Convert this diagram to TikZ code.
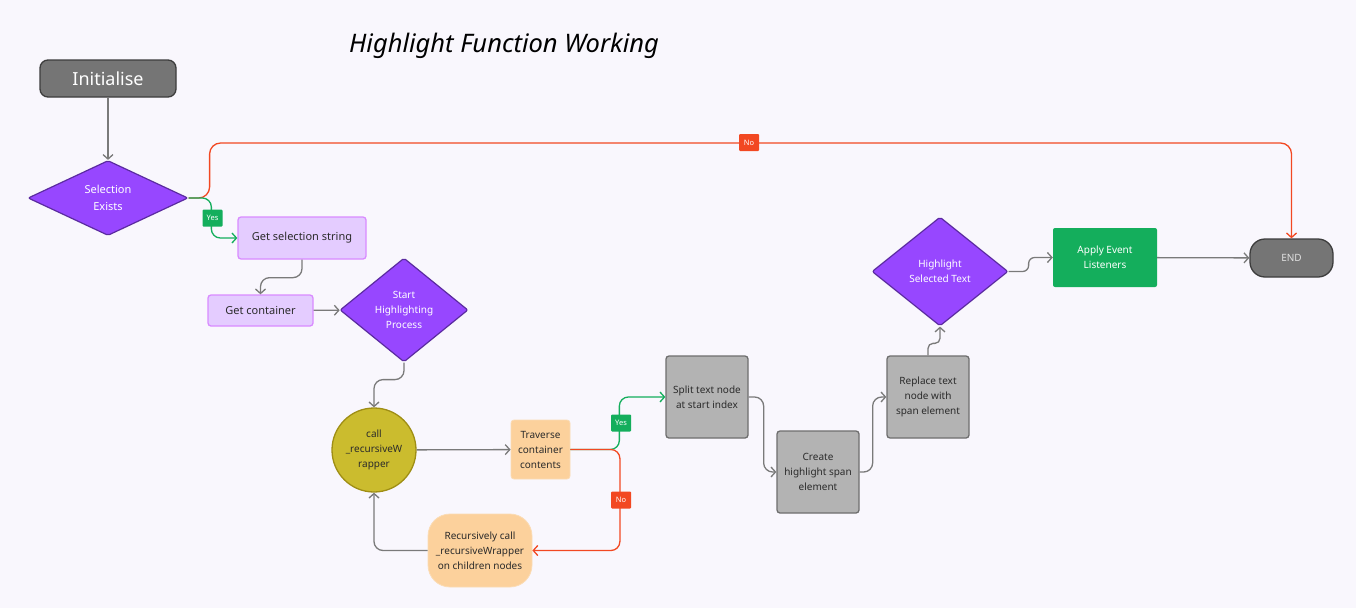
\documentclass[tikz,border=0pt]{standalone}
\usepackage{fontspec}
\setmainfont{Noto Sans}
\usetikzlibrary{shapes.geometric,arrows.meta}
\definecolor{bgc}{HTML}{F9F7FD}
\definecolor{dgray}{HTML}{757575}
\definecolor{dgrayb}{HTML}{3D3D3D}
\definecolor{purp}{HTML}{9747FF}
\definecolor{purpb}{HTML}{5B2BA0}
\definecolor{lpurp}{HTML}{E4CCFF}
\definecolor{lpurpb}{HTML}{D98BFF}
\definecolor{olive}{HTML}{CBBC2E}
\definecolor{oliveb}{HTML}{9F8E14}
\definecolor{peach}{HTML}{FCD19C}
\definecolor{peachb}{HTML}{FBDCB5}
\definecolor{mgray}{HTML}{B3B3B3}
\definecolor{mgrayb}{HTML}{6E6E6E}
\definecolor{fgreen}{HTML}{14AE5C}
\definecolor{fred}{HTML}{F24822}
\definecolor{conn}{HTML}{7A7A7A}
\definecolor{txt}{HTML}{2B2B2B}
\tikzset{
  every node/.style={align=center,inner sep=0pt},
  sm/.style={font=\fontsize{10}{15}\selectfont},
  terminal/.style={draw=dgrayb,fill=dgray,line width=1.3pt,text=white},
  dec/.style={diamond,draw=purpb,fill=purp,line width=1.2pt,text=white,sm,rounded corners=2pt},
  lbox/.style={draw=lpurpb,fill=lpurp,line width=1.3pt,rounded corners=3pt,text=txt,font=\fontsize{11}{14}\selectfont},
  gbox/.style={draw=mgrayb,fill=mgray,line width=1.3pt,rounded corners=3pt,text=txt,sm,minimum width=82pt,minimum height=82pt},
  pbox/.style={fill=peach,draw=peachb,line width=0.8pt,text=txt,sm},
  conline/.style={draw=conn,line width=1.3pt,-{Straight Barb[length=4.5pt,width=10pt]},rounded corners=9pt},
  yesline/.style={conline,draw=fgreen},
  noline/.style={conline,draw=fred},
  tag/.style={fill=#1,text=white,font=\fontsize{7.5}{8}\selectfont,minimum width=20pt,minimum height=17pt,rounded corners=1pt},
}
\begin{document}
\begin{tikzpicture}[x=1pt,y=-1pt]
\fill[bgc] (0,0) rectangle (1356,608);
\useasboundingbox (0,0) rectangle (1356,608);

\node (title) at (504,46) {\fontsize{25.5}{28}\selectfont\itshape Highlight Function Working};

\node[terminal,rounded corners=8pt,minimum width=136pt,minimum height=37pt,font=\fontsize{18}{20}\selectfont] (init) at (108,78.5) {Initialise};
\node[dec,minimum width=160pt,minimum height=75pt,aspect=2.13,font=\fontsize{11}{17}\selectfont] (sel) at (108,198) {Selection\\Exists};
\node[lbox,minimum width=128pt,minimum height=42pt] (gss) at (302,238) {Get selection string};
\node[lbox,minimum width=105pt,minimum height=31pt] (gc) at (260.5,310.5) {Get container};
\node[dec,minimum width=128pt,minimum height=104pt,aspect=1.23] (shp) at (404,310) {Start\\Highlighting\\Process};
\node[circle,draw=oliveb,fill=olive,line width=1.3pt,minimum size=84pt,text=txt,sm] (call) at (374,450) {call\\\_recursiveW\\rapper};
\node[pbox,rounded corners=3pt,minimum width=59pt,minimum height=59pt] (trav) at (540.5,449.5) {Traverse\\container\\contents};
\node[pbox,rounded corners=22pt,minimum width=104pt,minimum height=73pt] (rec) at (480,550.5) {Recursively call\\\_recursiveWrapper\\on children nodes};
\node[gbox] (split) at (707,397) {Split text node\\at start index};
\node[gbox] (create) at (818,472) {Create\\highlight span\\element};
\node[gbox] (repl) at (928,397) {Replace text\\node with\\span element};
\node[dec,minimum width=136pt,minimum height=109pt,aspect=1.25] (hst) at (940,271.5) {Highlight\\Selected Text};
\node[fill=fgreen,rounded corners=2pt,text=white,sm,minimum width=104pt,minimum height=59pt] (apply) at (1105,257.5) {Apply Event\\Listeners};
\node[terminal,rounded corners=15pt,minimum width=83pt,minimum height=38pt,text=white!88!black,sm] (end) at (1291.5,258) {END};

\draw[conline] (init) -- (sel);
\draw[noline,rounded corners=11pt] (sel.east) -| ++(21,-55) -| (end.north);
\draw[yesline] (sel.east) -| ([xshift=-26pt]gss.west) -- (gss.west);
\node[tag=fred] (no1) at (749,142.5) {No};
\node[tag=fgreen] (yes1) at (212.5,218) {Yes};
\draw[conline] (gss.south) -- ++(0,18) -| (gc.north);
\draw[conline] (gc) -- (shp);
\draw[conline] (shp.south) -- ++(0,17) -| (call.north);
\draw[conline] (call) -- (trav);
\draw[yesline] (trav.east) -| ([xshift=-46pt]split.west) -- (split.west);
\node[tag=fgreen] (yes2) at (621,423) {Yes};
\draw[noline] (trav.east) -- ++(49.5,0) |- (rec.east);
\node[tag=fred] (no2) at (621,500) {No};
\draw[conline] (rec.west) -| (call.south);
\draw[conline] (split.east) -- ++(15,0) |- (create.west);
\draw[conline] (create.east) -- ++(13,0) |- (repl.west);
\draw[conline,rounded corners=5pt] (repl.north) -- ++(0,-12) -| (hst.south);
\draw[conline,rounded corners=6pt] (hst.east) -- ++(20,0) |- (apply.west);
\draw[conline] (apply) -- (end);
\end{tikzpicture}
\end{document}
